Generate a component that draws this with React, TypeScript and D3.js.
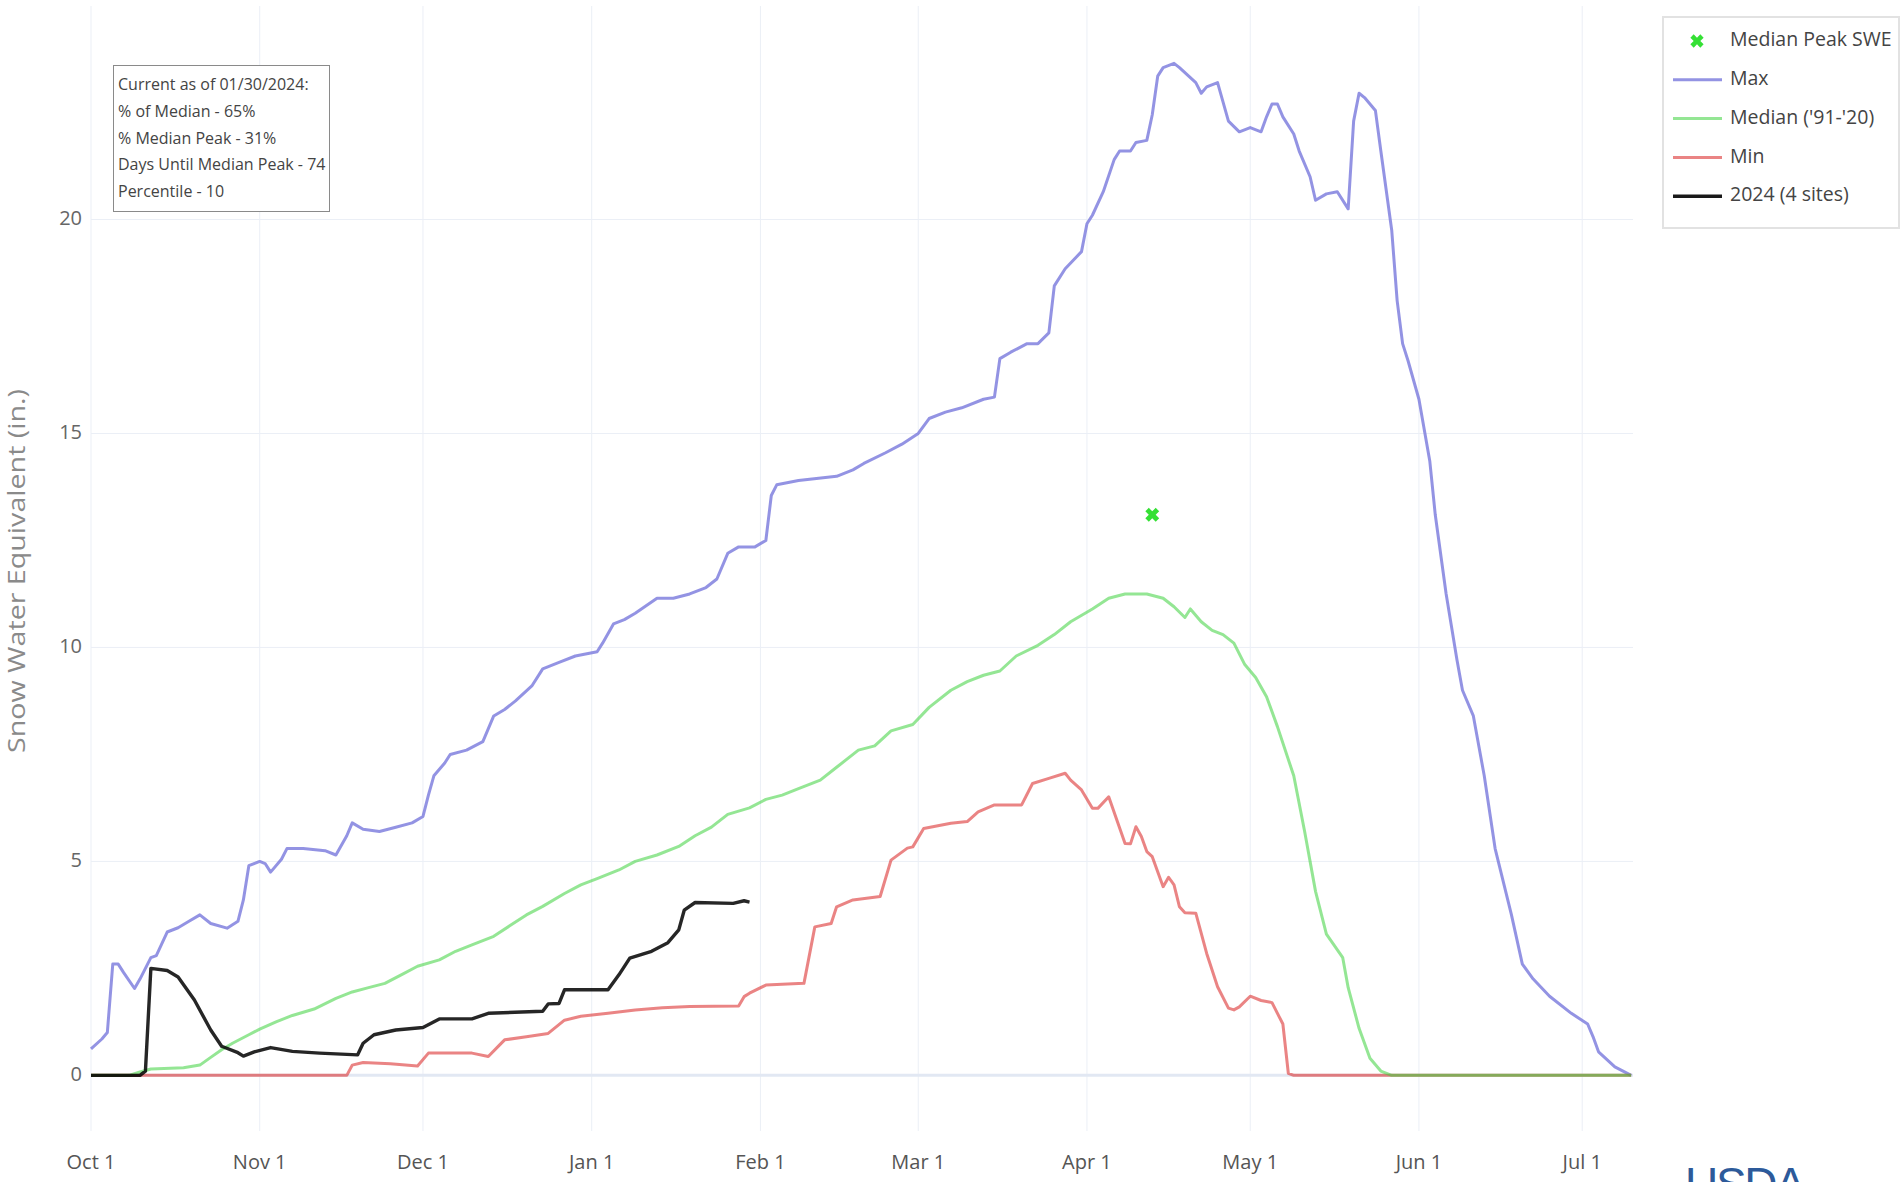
import * as d3 from "d3";
import { useEffect, useRef } from "react";

const W = 1901;
const H = 1182;
const plot = { left: 91, right: 1633, top: 6, bottom: 1131 };

// daily SWE (in.), water year 2024
const maxSwe: [string, number][] = [
  ["2023-10-01", 0.62], ["2023-10-03", 0.85], ["2023-10-04", 1.0], ["2023-10-05", 2.6], ["2023-10-06", 2.6],
  ["2023-10-07", 2.4], ["2023-10-09", 2.03], ["2023-10-10", 2.25], ["2023-10-12", 2.75], ["2023-10-13", 2.8],
  ["2023-10-15", 3.35], ["2023-10-17", 3.45], ["2023-10-19", 3.6], ["2023-10-21", 3.75], ["2023-10-23", 3.55],
  ["2023-10-26", 3.44], ["2023-10-28", 3.6], ["2023-10-29", 4.1], ["2023-10-30", 4.9], ["2023-11-01", 5.0],
  ["2023-11-02", 4.95], ["2023-11-03", 4.75], ["2023-11-05", 5.05], ["2023-11-06", 5.3], ["2023-11-09", 5.3],
  ["2023-11-13", 5.25], ["2023-11-15", 5.15], ["2023-11-17", 5.6], ["2023-11-18", 5.9], ["2023-11-20", 5.75],
  ["2023-11-23", 5.7], ["2023-11-26", 5.8], ["2023-11-29", 5.9], ["2023-12-01", 6.05], ["2023-12-02", 6.55],
  ["2023-12-03", 7.0], ["2023-12-05", 7.3], ["2023-12-06", 7.5], ["2023-12-09", 7.6], ["2023-12-12", 7.8],
  ["2023-12-14", 8.4], ["2023-12-16", 8.55], ["2023-12-18", 8.75], ["2023-12-21", 9.1], ["2023-12-23", 9.5],
  ["2023-12-26", 9.65], ["2023-12-29", 9.8], ["2024-01-02", 9.9], ["2024-01-03", 10.1], ["2024-01-05", 10.55],
  ["2024-01-07", 10.65], ["2024-01-09", 10.8], ["2024-01-13", 11.15], ["2024-01-16", 11.15], ["2024-01-19", 11.25],
  ["2024-01-22", 11.4], ["2024-01-24", 11.6], ["2024-01-26", 12.2], ["2024-01-28", 12.35], ["2024-01-31", 12.35],
  ["2024-02-02", 12.5], ["2024-02-03", 13.55], ["2024-02-04", 13.8], ["2024-02-08", 13.9], ["2024-02-15", 14.0],
  ["2024-02-18", 14.15], ["2024-02-20", 14.3], ["2024-02-24", 14.55], ["2024-02-27", 14.75], ["2024-03-01", 15.0],
  ["2024-03-03", 15.35], ["2024-03-06", 15.5], ["2024-03-09", 15.6], ["2024-03-13", 15.8], ["2024-03-15", 15.85],
  ["2024-03-16", 16.75], ["2024-03-18", 16.9], ["2024-03-21", 17.1], ["2024-03-23", 17.1], ["2024-03-25", 17.35],
  ["2024-03-26", 18.45], ["2024-03-28", 18.85], ["2024-03-31", 19.25], ["2024-04-01", 19.9], ["2024-04-02", 20.1],
  ["2024-04-04", 20.65], ["2024-04-06", 21.4], ["2024-04-07", 21.6], ["2024-04-09", 21.6], ["2024-04-10", 21.8],
  ["2024-04-12", 21.85], ["2024-04-13", 22.45], ["2024-04-14", 23.35], ["2024-04-15", 23.55], ["2024-04-17", 23.65],
  ["2024-04-18", 23.55], ["2024-04-21", 23.2], ["2024-04-22", 22.95], ["2024-04-23", 23.1], ["2024-04-25", 23.2],
  ["2024-04-27", 22.3], ["2024-04-29", 22.05], ["2024-05-01", 22.15], ["2024-05-03", 22.05], ["2024-05-04", 22.4],
  ["2024-05-05", 22.7], ["2024-05-06", 22.7], ["2024-05-07", 22.4], ["2024-05-09", 22.0], ["2024-05-10", 21.6],
  ["2024-05-12", 21.0], ["2024-05-13", 20.45], ["2024-05-15", 20.6], ["2024-05-17", 20.65], ["2024-05-19", 20.25],
  ["2024-05-20", 22.3], ["2024-05-21", 22.95], ["2024-05-22", 22.85], ["2024-05-24", 22.55], ["2024-05-25", 21.6],
  ["2024-05-27", 19.75], ["2024-05-28", 18.1], ["2024-05-29", 17.1], ["2024-05-30", 16.7], ["2024-06-01", 15.8],
  ["2024-06-03", 14.35], ["2024-06-04", 13.1], ["2024-06-06", 11.25], ["2024-06-08", 9.7], ["2024-06-09", 9.0],
  ["2024-06-11", 8.4], ["2024-06-13", 7.0], ["2024-06-15", 5.3], ["2024-06-18", 3.75], ["2024-06-20", 2.6],
  ["2024-06-22", 2.25], ["2024-06-25", 1.85], ["2024-06-29", 1.45], ["2024-07-02", 1.2], ["2024-07-03", 0.9],
  ["2024-07-04", 0.55], ["2024-07-07", 0.2], ["2024-07-10", 0],
];

const medianSwe: [string, number][] = [
  ["2023-10-01", 0], ["2023-10-08", 0], ["2023-10-10", 0.08], ["2023-10-12", 0.15], ["2023-10-18", 0.18],
  ["2023-10-21", 0.24], ["2023-10-23", 0.42], ["2023-10-25", 0.6], ["2023-10-27", 0.75], ["2023-10-30", 0.95],
  ["2023-11-01", 1.08], ["2023-11-04", 1.25], ["2023-11-07", 1.4], ["2023-11-11", 1.55], ["2023-11-15", 1.8],
  ["2023-11-18", 1.95], ["2023-11-21", 2.05], ["2023-11-24", 2.15], ["2023-11-27", 2.35], ["2023-11-30", 2.55],
  ["2023-12-04", 2.7], ["2023-12-07", 2.9], ["2023-12-10", 3.05], ["2023-12-14", 3.25], ["2023-12-17", 3.5],
  ["2023-12-20", 3.75], ["2023-12-23", 3.95], ["2023-12-27", 4.25], ["2023-12-30", 4.45], ["2024-01-02", 4.6],
  ["2024-01-06", 4.8], ["2024-01-09", 5.0], ["2024-01-13", 5.15], ["2024-01-17", 5.35], ["2024-01-20", 5.6],
  ["2024-01-23", 5.8], ["2024-01-26", 6.1], ["2024-01-30", 6.25], ["2024-02-02", 6.45], ["2024-02-05", 6.55],
  ["2024-02-08", 6.7], ["2024-02-12", 6.9], ["2024-02-15", 7.2], ["2024-02-19", 7.6], ["2024-02-22", 7.7],
  ["2024-02-25", 8.05], ["2024-02-29", 8.2], ["2024-03-03", 8.6], ["2024-03-07", 9.0], ["2024-03-10", 9.2],
  ["2024-03-13", 9.35], ["2024-03-16", 9.45], ["2024-03-19", 9.8], ["2024-03-23", 10.05], ["2024-03-26", 10.3],
  ["2024-03-29", 10.6], ["2024-04-02", 10.9], ["2024-04-05", 11.15], ["2024-04-08", 11.25], ["2024-04-12", 11.25],
  ["2024-04-15", 11.15], ["2024-04-17", 10.95], ["2024-04-19", 10.7], ["2024-04-20", 10.9], ["2024-04-22", 10.6],
  ["2024-04-24", 10.4], ["2024-04-26", 10.3], ["2024-04-28", 10.1], ["2024-04-30", 9.6], ["2024-05-02", 9.3],
  ["2024-05-04", 8.85], ["2024-05-06", 8.15], ["2024-05-09", 7.0], ["2024-05-11", 5.7], ["2024-05-13", 4.3],
  ["2024-05-15", 3.3], ["2024-05-18", 2.75], ["2024-05-19", 2.05], ["2024-05-21", 1.1], ["2024-05-23", 0.4],
  ["2024-05-25", 0.1], ["2024-05-27", 0], ["2024-07-10", 0],
];

const minSwe: [string, number][] = [
  ["2023-10-01", 0], ["2023-11-17", 0], ["2023-11-18", 0.24], ["2023-11-20", 0.3], ["2023-11-25", 0.27],
  ["2023-11-30", 0.22], ["2023-12-02", 0.52], ["2023-12-10", 0.52], ["2023-12-13", 0.44], ["2023-12-15", 0.7],
  ["2023-12-16", 0.83], ["2023-12-20", 0.9], ["2023-12-24", 0.98], ["2023-12-27", 1.29], ["2023-12-30", 1.38],
  ["2024-01-04", 1.45], ["2024-01-09", 1.53], ["2024-01-14", 1.58], ["2024-01-19", 1.61], ["2024-01-28", 1.62],
  ["2024-01-29", 1.84], ["2024-01-30", 1.92], ["2024-02-02", 2.11], ["2024-02-09", 2.15], ["2024-02-11", 3.47],
  ["2024-02-14", 3.55], ["2024-02-15", 3.94], ["2024-02-18", 4.1], ["2024-02-23", 4.18], ["2024-02-25", 5.03],
  ["2024-02-28", 5.31], ["2024-02-29", 5.34], ["2024-03-02", 5.77], ["2024-03-07", 5.89], ["2024-03-10", 5.93],
  ["2024-03-12", 6.16], ["2024-03-15", 6.32], ["2024-03-20", 6.32], ["2024-03-22", 6.82], ["2024-03-25", 6.94],
  ["2024-03-28", 7.06], ["2024-03-29", 6.9], ["2024-03-31", 6.67], ["2024-04-02", 6.24], ["2024-04-03", 6.24],
  ["2024-04-05", 6.51], ["2024-04-08", 5.42], ["2024-04-09", 5.41], ["2024-04-10", 5.81], ["2024-04-11", 5.58],
  ["2024-04-12", 5.23], ["2024-04-13", 5.11], ["2024-04-15", 4.41], ["2024-04-16", 4.63], ["2024-04-17", 4.45],
  ["2024-04-18", 3.94], ["2024-04-19", 3.8], ["2024-04-21", 3.79], ["2024-04-23", 2.85], ["2024-04-25", 2.07],
  ["2024-04-27", 1.57], ["2024-04-28", 1.53], ["2024-04-29", 1.6], ["2024-05-01", 1.85], ["2024-05-03", 1.75],
  ["2024-05-05", 1.7], ["2024-05-07", 1.2], ["2024-05-08", 0.05], ["2024-05-09", 0], ["2024-07-10", 0],
];

const current2024: [string, number][] = [
  ["2023-10-01", 0], ["2023-10-10", 0], ["2023-10-11", 0.1], ["2023-10-12", 2.5], ["2023-10-15", 2.45],
  ["2023-10-17", 2.3], ["2023-10-20", 1.76], ["2023-10-23", 1.06], ["2023-10-25", 0.68], ["2023-10-28", 0.53],
  ["2023-10-29", 0.45], ["2023-10-31", 0.55], ["2023-11-03", 0.65], ["2023-11-07", 0.56], ["2023-11-12", 0.52],
  ["2023-11-19", 0.48], ["2023-11-20", 0.75], ["2023-11-22", 0.95], ["2023-11-26", 1.06], ["2023-12-01", 1.12],
  ["2023-12-04", 1.32], ["2023-12-10", 1.32], ["2023-12-13", 1.45], ["2023-12-23", 1.5], ["2023-12-24", 1.67],
  ["2023-12-26", 1.68], ["2023-12-27", 2.0], ["2024-01-04", 2.0], ["2024-01-06", 2.35], ["2024-01-08", 2.74],
  ["2024-01-12", 2.9], ["2024-01-15", 3.1], ["2024-01-17", 3.4], ["2024-01-18", 3.86], ["2024-01-20", 4.04],
  ["2024-01-27", 4.02], ["2024-01-29", 4.08], ["2024-01-30", 4.05],
];

const medianPeak: [string, number][] = [["2024-04-13", 13.1]];

const yTicks = [0, 5, 10, 15, 20];
const infoLines = [
  "Current as of 01/30/2024:",
  "% of Median - 65%",
  "% Median Peak - 31%",
  "Days Until Median Peak - 74",
  "Percentile - 10",
];

const colors = {
  max: "rgb(120,120,220)",
  median: "rgb(60,210,60)",
  min: "rgb(220,50,50)",
  current: "#000",
  peak: "#35e035",
};

const legendItems = [
  { label: "Median Peak SWE", key: "peak", color: colors.peak, opacity: 1 },
  { label: "Max", key: "max", color: colors.max, opacity: 0.8 },
  { label: "Median ('91-'20)", key: "median", color: colors.median, opacity: 0.55 },
  { label: "Min", key: "min", color: colors.min, opacity: 0.6 },
  { label: "2024 (4 sites)", key: "current", color: colors.current, opacity: 0.9 },
];

const parse = d3.utcParse("%Y-%m-%d");
const font = "'Open Sans', 'Noto Sans', sans-serif";

const App = () => {
  const svgRef = useRef<SVGSVGElement | null>(null);

  useEffect(() => {
    document.body.style.margin = "0";
    const x = d3
      .scaleUtc()
      .domain([parse("2023-10-01")!, new Date(Date.UTC(2024, 6, 10, 8))])
      .range([plot.left, plot.right]);
    const y = d3.scaleLinear().domain([-1.3, 24.99]).range([plot.bottom, plot.top]);

    const svg = d3.select(svgRef.current);
    svg.selectAll("*").remove();

    svg.append("rect").attr("width", W).attr("height", H).attr("fill", "#fff");

    svg
      .append("clipPath")
      .attr("id", "plotclip")
      .append("rect")
      .attr("x", plot.left - 2)
      .attr("y", plot.top)
      .attr("width", plot.right - plot.left + 4)
      .attr("height", plot.bottom - plot.top);

    // grid
    const months = x.ticks(d3.utcMonth.every(1)!);
    svg
      .append("g")
      .selectAll("line")
      .data(months)
      .join("line")
      .attr("x1", (d) => x(d))
      .attr("x2", (d) => x(d))
      .attr("y1", plot.top)
      .attr("y2", plot.bottom)
      .attr("stroke", "#ebeff6")
      .attr("stroke-width", 1);

    svg
      .append("g")
      .selectAll("line")
      .data(yTicks.filter((t) => t !== 0))
      .join("line")
      .attr("x1", plot.left)
      .attr("x2", plot.right)
      .attr("y1", (d) => y(d))
      .attr("y2", (d) => y(d))
      .attr("stroke", "#ebeff6")
      .attr("stroke-width", 1);

    // zero line
    svg
      .append("line")
      .attr("x1", plot.left)
      .attr("x2", plot.right)
      .attr("y1", y(0))
      .attr("y2", y(0))
      .attr("stroke", "#e2e8f3")
      .attr("stroke-width", 3);

    // axis labels
    svg
      .append("g")
      .selectAll("text")
      .data(months)
      .join("text")
      .attr("x", (d) => x(d))
      .attr("y", 1164)
      .attr("text-anchor", "middle")
      .attr("dominant-baseline", "middle")
      .attr("font-family", font)
      .attr("font-size", 20)
      .attr("fill", "#555")
      .text((d) => d3.utcFormat("%b %-d")(d));

    svg
      .append("g")
      .selectAll("text")
      .data(yTicks)
      .join("text")
      .attr("x", 82)
      .attr("y", (d) => y(d))
      .attr("text-anchor", "end")
      .attr("dominant-baseline", "middle")
      .attr("font-family", font)
      .attr("font-size", 20)
      .attr("fill", "#666")
      .text((d) => d);

    // the source is stretched vertically, so the rotated title runs long and thin
    svg
      .append("text")
      .attr("transform", `translate(19, 571) rotate(-90)`)
      .attr("text-anchor", "middle")
      .attr("dominant-baseline", "middle")
      .attr("font-family", font)
      .attr("font-size", 23)
      .attr("textLength", 364)
      .attr("lengthAdjust", "spacingAndGlyphs")
      .attr("fill", "#8a8a8a")
      .text("Snow Water Equivalent (in.)");

    // series
    const line = d3
      .line<[string, number]>()
      .x((d) => x(parse(d[0])!))
      .y((d) => y(d[1]));

    const g = svg.append("g").attr("clip-path", "url(#plotclip)");

    const peakSymbol = d3.symbol(d3.symbolCross, 120);
    g.selectAll(".peak")
      .data(medianPeak)
      .join("path")
      .attr("d", peakSymbol)
      .attr("transform", (d) => `translate(${x(parse(d[0])!)},${y(d[1])}) rotate(45)`)
      .attr("fill", colors.peak);

    const series: [[string, number][], string, number, number][] = [
      [maxSwe, colors.max, 0.8, 3],
      [minSwe, colors.min, 0.6, 3],
      [medianSwe, colors.median, 0.55, 3],
      [current2024, colors.current, 0.85, 3.4],
    ];
    series.forEach(([data, color, opacity, width]) => {
      g.append("path")
        .datum(data)
        .attr("d", line)
        .attr("fill", "none")
        .attr("stroke", color)
        .attr("stroke-opacity", opacity)
        .attr("stroke-width", width)
        .attr("stroke-linejoin", "round");
    });

    // info box
    const info = svg.append("g");
    info
      .append("rect")
      .attr("x", 113.5)
      .attr("y", 65.5)
      .attr("width", 216)
      .attr("height", 146)
      .attr("fill", "#fff")
      .attr("stroke", "#8a8a8a")
      .attr("stroke-width", 1);
    info
      .selectAll("text")
      .data(infoLines)
      .join("text")
      .attr("x", 118)
      .attr("y", (_, i) => 86 + i * 26.7)
      .attr("dominant-baseline", "middle")
      .attr("font-family", font)
      .attr("font-size", 16)
      .attr("fill", "#444")
      .text((d) => d);

    // legend
    const legend = svg.append("g");
    legend
      .append("rect")
      .attr("x", 1663)
      .attr("y", 17)
      .attr("width", 236)
      .attr("height", 211)
      .attr("fill", "#fff")
      .attr("stroke", "#e2e2e2")
      .attr("stroke-width", 2);
    const rows = legend
      .selectAll("g")
      .data(legendItems)
      .join("g")
      .attr("transform", (_, i) => `translate(0, ${41 + i * 38.8})`);
    rows
      .filter((d) => d.key !== "peak")
      .append("line")
      .attr("x1", 1673)
      .attr("x2", 1722)
      .attr("stroke", (d) => d.color)
      .attr("stroke-opacity", (d) => d.opacity)
      .attr("stroke-width", (d) => (d.key === "current" ? 3.5 : 3));
    rows
      .filter((d) => d.key === "peak")
      .append("path")
      .attr("d", d3.symbol(d3.symbolCross, 110))
      .attr("transform", "translate(1697,0) rotate(45)")
      .attr("fill", colors.peak);
    rows
      .append("text")
      .attr("x", 1730)
      .attr("dominant-baseline", "middle")
      .attr("font-family", font)
      .attr("font-size", 19.5)
      .attr("fill", "#444")
      .text((d) => d.label);

    // agency mark, cut off at the bottom edge as in the source
    svg
      .append("text")
      .attr("x", 1685)
      .attr("y", 1200)
      .attr("font-family", "'Liberation Sans', Arial, sans-serif")
      .attr("font-size", 46)
      .attr("fill", "#2d5a9a")
      .attr("textLength", 121)
      .text("USDA");
  }, []);

  return <svg ref={svgRef} width={W} height={H} style={{ display: "block" }} />;
};

export default App;
